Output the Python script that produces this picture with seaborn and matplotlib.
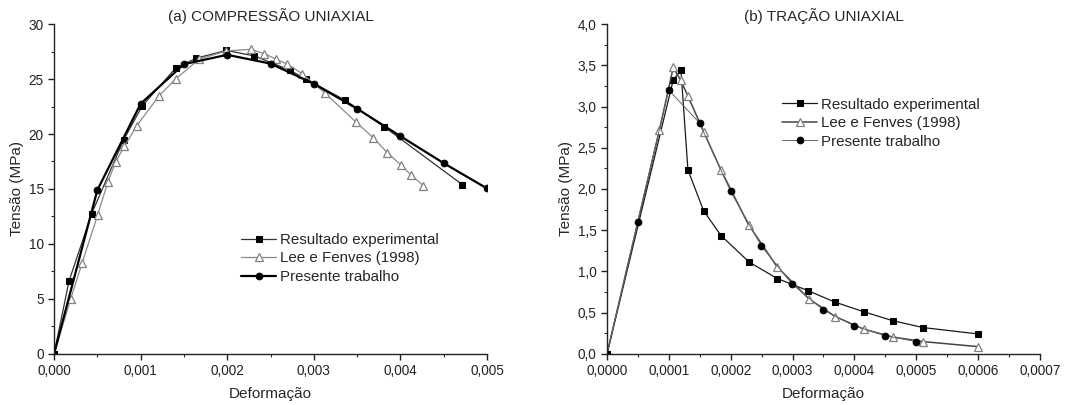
import numpy as np
import pandas as pd
import matplotlib
matplotlib.use("Agg")
import matplotlib.pyplot as plt
from matplotlib.ticker import MultipleLocator, FuncFormatter
import seaborn as sns

# ---------------- data ----------------
# (a) compressão uniaxial
comp_exp_x = [0, 0.000173, 0.000435, 0.000804, 0.00102, 0.001405, 0.001644, 0.00199,
              0.002313, 0.002725, 0.002906, 0.003356, 0.003814, 0.004715]
comp_exp_y = [0, 6.64, 12.77, 19.47, 22.57, 26.0, 26.9, 27.6,
              27.1, 25.8, 25.0, 23.1, 20.65, 15.4]

comp_lee_x = [0, 0.000192, 0.000323, 0.000504, 0.00062, 0.000712, 0.000812, 0.000955,
              0.001216, 0.001405, 0.001674, 0.00199, 0.002271, 0.002429, 0.002567,
              0.002694, 0.002864, 0.003133, 0.003487, 0.003688, 0.003849, 0.004003,
              0.004119, 0.004265]
comp_lee_y = [0, 5.0, 8.25, 12.65, 15.6, 17.47, 18.87, 20.75,
              23.5, 25.0, 26.8, 27.55, 27.7, 27.3, 26.8,
              26.35, 25.5, 23.7, 21.08, 19.65, 18.3, 17.2,
              16.3, 15.3]

comp_pre_x = [0, 0.0005, 0.001, 0.0015, 0.002, 0.0025, 0.003, 0.0035, 0.004, 0.0045, 0.005]
comp_pre_y = [0, 14.9, 22.75, 26.35, 27.2, 26.4, 24.57, 22.3, 19.8, 17.35, 15.05]

# (b) tração uniaxial
trac_exp_x = [0, 0.0001072, 0.0001196, 0.0001309, 0.0001563, 0.0001843, 0.0002295,
              0.0002753, 0.0003249, 0.0003691, 0.000416, 0.0004617, 0.0005113, 0.0005997]
trac_exp_y = [0, 3.325, 3.44, 2.23, 1.735, 1.436, 1.116,
              0.914, 0.768, 0.627, 0.51, 0.404, 0.32, 0.243]

trac_lee_x = [0, 0.0000846, 0.0001072, 0.000119, 0.0001309, 0.0001568, 0.0001843,
              0.000229, 0.0002748, 0.000326, 0.0003691, 0.000416, 0.0004617,
              0.0005113, 0.0005997]
trac_lee_y = [0, 2.71, 3.474, 3.32, 3.126, 2.686, 2.229,
              1.565, 1.06, 0.671, 0.453, 0.299, 0.206,
              0.15, 0.089]

trac_pre_x = [0, 0.0000496, 0.0000997, 0.0001498, 0.0002, 0.0002495, 0.0002996,
              0.0003497, 0.0003998, 0.0004499, 0.0005]
trac_pre_y = [0, 1.6, 3.2, 2.80, 1.97, 1.31, 0.845, 0.534, 0.34, 0.222, 0.15]

labels = ["Resultado experimental", "Lee e Fenves (1998)", "Presente trabalho"]

# ---------------- style ----------------
sns.set_theme(style="ticks")
plt.rcParams["font.family"] = ["Liberation Sans", "DejaVu Sans"]
plt.rcParams["axes.linewidth"] = 1.0

fig = plt.figure(figsize=(10.81, 4.05), dpi=100)
axA = fig.add_axes([0.050, 0.126, 0.4005, 0.8147])
axB = fig.add_axes([0.5615, 0.126, 0.4005, 0.8147])


def comma_fmt(decimals):
    return FuncFormatter(lambda v, p: f"{v:.{decimals}f}".replace(".", ","))


def draw(ax, xs, ys, styles):
    for x, y, lab, st in zip(xs, ys, labels, styles):
        df = pd.DataFrame({"x": x, "y": y})
        sns.lineplot(data=df, x="x", y="y", ax=ax, sort=False, estimator=None,
                     label=lab, **st)


# panel (a)
stylesA = [
    dict(color="#333333", linewidth=0.9, marker="s", markersize=4.6,
         markerfacecolor="black", markeredgecolor="black"),
    dict(color="#8a8a8a", linewidth=0.9, marker="^", markersize=6.2,
         markerfacecolor="white", markeredgecolor="#808080", markeredgewidth=0.9),
    dict(color="black", linewidth=1.6, marker="o", markersize=4.8,
         markerfacecolor="black", markeredgecolor="black"),
]
draw(axA, [comp_exp_x, comp_lee_x, comp_pre_x], [comp_exp_y, comp_lee_y, comp_pre_y], stylesA)

# panel (b)
stylesB = [
    dict(color="#1a1a1a", linewidth=0.9, marker="s", markersize=4.6,
         markerfacecolor="black", markeredgecolor="black"),
    dict(color="#444444", linewidth=1.1, marker="^", markersize=6.2,
         markerfacecolor="white", markeredgecolor="#808080", markeredgewidth=0.9),
    dict(color="#666666", linewidth=0.7, marker="o", markersize=4.8,
         markerfacecolor="black", markeredgecolor="black"),
]
draw(axB, [trac_exp_x, trac_lee_x, trac_pre_x], [trac_exp_y, trac_lee_y, trac_pre_y], stylesB)

for ax in (axA, axB):
    sns.despine(ax=ax)
    ax.set_xlabel("Deformação", fontsize=11, labelpad=6)
    ax.set_ylabel("Tensão (MPa)", fontsize=11, labelpad=3)
    ax.tick_params(which="major", direction="out", length=4, width=1, labelsize=9.8,
                   colors="#222222")
    ax.tick_params(which="minor", direction="out", length=2.5, width=0.8)
    for sp in ax.spines.values():
        sp.set_color("#222222")

axA.set_xlim(0, 0.005)
axA.set_ylim(0, 30)
axA.xaxis.set_major_locator(MultipleLocator(0.001))
axA.xaxis.set_minor_locator(MultipleLocator(0.0005))
axA.yaxis.set_major_locator(MultipleLocator(5))
axA.yaxis.set_minor_locator(MultipleLocator(2.5))
axA.xaxis.set_major_formatter(comma_fmt(3))
axA.yaxis.set_major_formatter(FuncFormatter(lambda v, p: f"{v:.0f}"))
axA.set_title("(a) COMPRESSÃO UNIAXIAL", fontsize=11, pad=1.5)

axB.set_xlim(0, 0.0007)
axB.set_ylim(0, 4.0)
axB.xaxis.set_major_locator(MultipleLocator(0.0001))
axB.xaxis.set_minor_locator(MultipleLocator(0.00005))
axB.yaxis.set_major_locator(MultipleLocator(0.5))
axB.yaxis.set_minor_locator(MultipleLocator(0.25))
axB.xaxis.set_major_formatter(comma_fmt(4))
axB.yaxis.set_major_formatter(comma_fmt(1))
axB.set_title("(b) TRAÇÃO UNIAXIAL", fontsize=11, pad=1.5)

axA.legend(loc="upper left", bbox_to_anchor=(0.415, 0.39), frameon=False, fontsize=10.9,
           handlelength=2.3, handletextpad=0.25, labelspacing=0.3, borderpad=0)
axB.legend(loc="upper left", bbox_to_anchor=(0.387, 0.80), frameon=False, fontsize=10.9,
           handlelength=2.3, handletextpad=0.25, labelspacing=0.3, borderpad=0)

fig.savefig("out.png", dpi=100)
